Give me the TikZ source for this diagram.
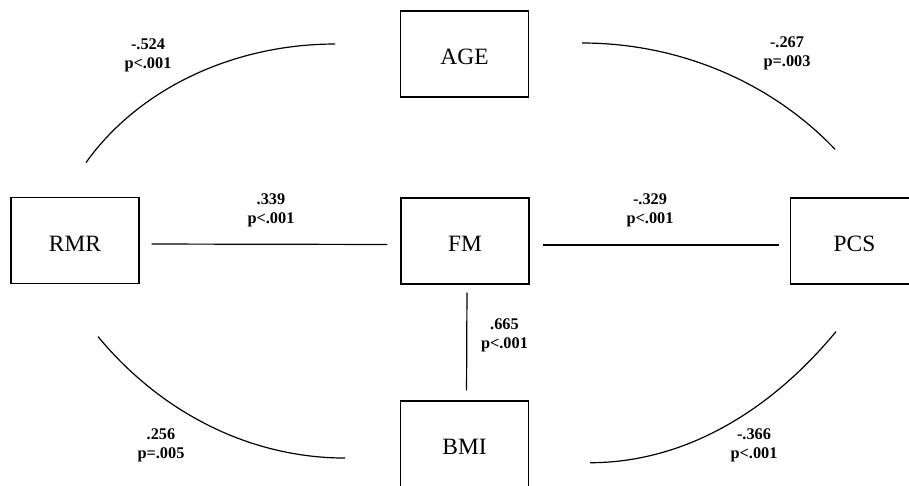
\documentclass[tikz,border=0pt]{standalone}
\usepackage{fontspec}
\setmainfont{Liberation Serif}
\begin{document}
\begin{tikzpicture}[x=1pt,y=1pt,
  varbox/.style={draw, line width=1.2pt, minimum width=128pt, minimum height=86pt, inner sep=0pt, text height=21pt, text depth=0pt, font=\fontsize{23.4}{27}\selectfont},
  conn/.style={line width=1.2pt},
  coef/.style={align=center, inner sep=0pt, font=\fontsize{16.3}{19}\selectfont\bfseries}]
\clip (0,0) rectangle (909,-485);
\fill[white] (0,0) rectangle (909,-485);
% boxes
\node[varbox] (RMR) at (75,-240.5) {RMR};
\node[varbox] (AGE) at (464.5,-54) {AGE};
\node[varbox] (FM) at (465,-241) {FM};
\node[varbox] (PCS) at (854.5,-241) {PCS};
\node[varbox] (BMI) at (464.5,-444) {BMI};
% straight connectors
\draw[conn, shorten <=12pt, shorten >=13pt] ([yshift=-3.5pt]RMR.east) -- ([yshift=-3.5pt]FM.west);
\draw[conn, shorten <=13pt, shorten >=11pt] ([yshift=-4pt]FM.east) -- ([yshift=-4pt]PCS.west);
\draw[conn, shorten <=8pt, shorten >=10pt] ([xshift=2pt]FM.south) -- ([xshift=2pt]BMI.north);
% curved connectors
\coordinate (tl) at (86,-162.6);
\coordinate (tr) at (582,-43);
\coordinate (bl) at (98,-336.6);
\coordinate (br) at (836,-331.6);
\draw[conn] (tl) arc[start angle=149.2, end angle=90, x radius=290pt, y radius=243pt];
\draw[conn] (tr) arc[start angle=90, end angle=41.9, x radius=340pt, y radius=320pt];
\draw[conn] (bl) arc[start angle=223.4, end angle=270, x radius=340pt, y radius=388pt];
\draw[conn] (br) arc[start angle=307.95, end angle=270, x radius=400pt, y radius=620pt];
% coefficient labels
\node[coef] (c1) at (148,-55) {-.524\\p<.001};
\node[coef] (c2) at (787,-53) {-.267\\p=.003};
\node[coef] (c3) at (271,-210) {.339\\p<.001};
\node[coef] (c4) at (650,-210) {-.329\\p<.001};
\node[coef] (c5) at (504.5,-335) {.665\\p<.001};
\node[coef] (c6) at (161,-445) {.256\\p=.005};
\node[coef] (c7) at (754,-445) {-.366\\p<.001};
\end{tikzpicture}
\end{document}
